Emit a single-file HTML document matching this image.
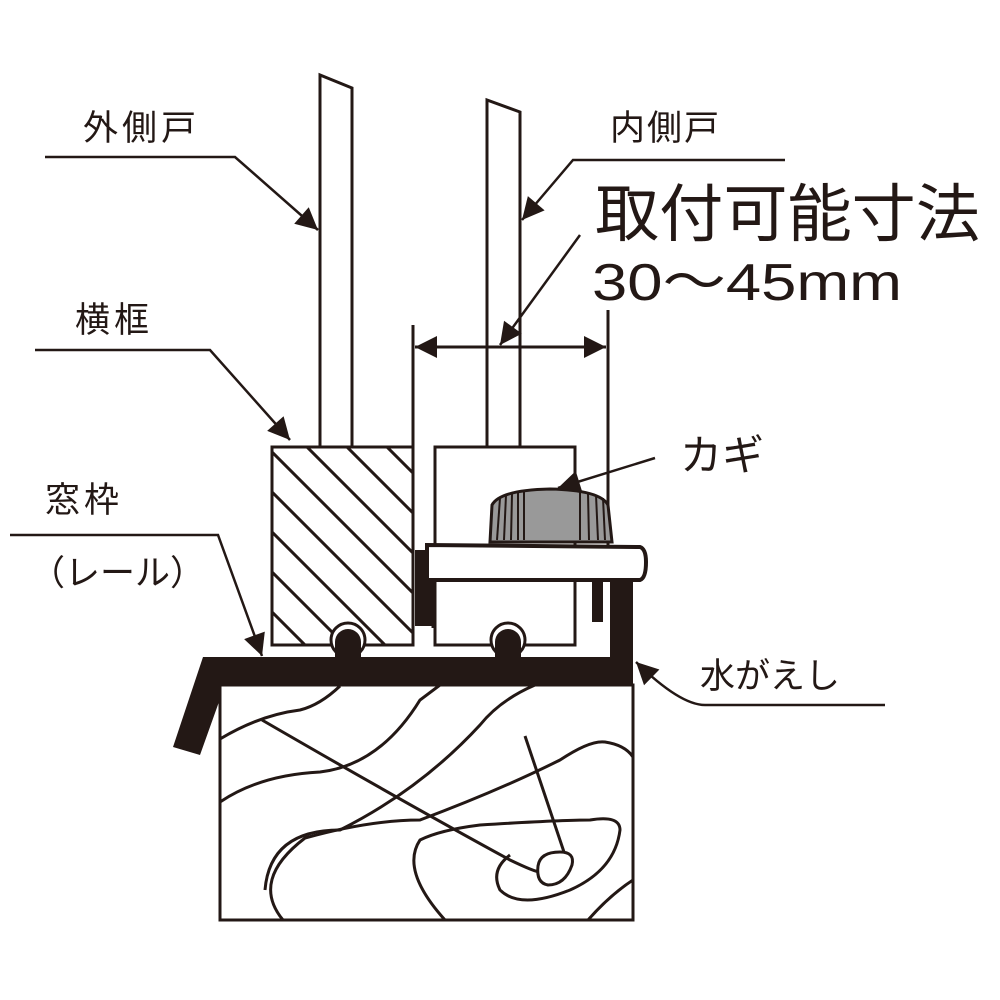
<!DOCTYPE html>
<html><head><meta charset="utf-8"><style>
html,body{margin:0;padding:0;background:#fff;}
svg{display:block;}
text{font-family:"Liberation Sans","Noto Sans CJK JP",sans-serif;fill:#231815;}
</style></head><body>
<svg width="1000" height="1000" viewBox="0 0 1000 1000" xmlns="http://www.w3.org/2000/svg">
<defs>
<marker id="ah" viewBox="0 0 10 10" refX="10" refY="5" markerWidth="9" markerHeight="9" markerUnits="userSpaceOnUse" orient="auto"><path d="M0,0 L10,5 L0,10 z" fill="#231815"/></marker>
<marker id="ab" viewBox="0 0 10 10" refX="10" refY="5" markerWidth="30" markerHeight="22" markerUnits="userSpaceOnUse" orient="auto"><path d="M0,0 L10,5 L0,10 z" fill="#231815"/></marker>
<clipPath id="lb"><rect x="272" y="447" width="141" height="198"/></clipPath>
<clipPath id="wood"><rect x="220" y="685" width="413" height="235"/></clipPath>
</defs>
<g stroke="#231815" fill="none" stroke-width="3">
<!-- doors -->
<path d="M320,447 L320,75 L352,88 L352,447" fill="#fff"/>
<path d="M487,447 L487,100 L520,112 L520,447" fill="#fff"/>
<!-- left frame hatched -->
<rect x="272" y="447" width="141" height="198" fill="#fff"/>
<g clip-path="url(#lb)" stroke-width="3">
<line x1="220" y1="440" x2="420" y2="640"/>
<line x1="220" y1="480" x2="420" y2="680"/>
<line x1="220" y1="520" x2="420" y2="720"/>
<line x1="220" y1="560" x2="420" y2="760"/>
<line x1="220" y1="600" x2="420" y2="800"/>
<line x1="260" y1="440" x2="460" y2="640"/>
<line x1="300" y1="440" x2="500" y2="640"/>
<line x1="340" y1="440" x2="540" y2="640"/>
<line x1="380" y1="440" x2="580" y2="640"/>
</g>
<rect x="272" y="447" width="141" height="198"/>
<!-- right frame -->
<rect x="435" y="447" width="140" height="198" fill="#fff"/>
<!-- dimension lines -->
<line x1="413" y1="325" x2="413" y2="447"/>
<line x1="608" y1="310" x2="608" y2="545"/>
<line x1="500" y1="347" x2="415" y2="347" marker-end="url(#ab)"/>
<line x1="500" y1="347" x2="606" y2="347" marker-end="url(#ab)"/>
</g>
<!-- rail bumps + rail -->
<g fill="#231815" stroke="none">
<path d="M203,657 L633,657 L633,685 L225,685 L200,755 L173,747 z"/>
<circle cx="348" cy="640" r="17" fill="#fff" stroke="#231815" stroke-width="3"/>
<circle cx="348" cy="642" r="13"/>
<rect x="335" y="642" width="26" height="18"/>
<circle cx="508" cy="640" r="17" fill="#fff" stroke="#231815" stroke-width="3"/>
<circle cx="508" cy="642" r="13"/>
<rect x="495" y="642" width="26" height="18"/>
<rect x="610" y="578" width="23" height="82"/>
<rect x="592" y="580" width="11" height="42"/>
<rect x="415" y="550" width="18" height="76"/>
</g>
<!-- lock plate -->
<path d="M427,545 L640,547 Q646,549 646,562 Q646,578 640,580 L427,580 z" fill="#fff" stroke="#231815" stroke-width="4"/>
<line x1="433" y1="580" x2="433" y2="628" stroke="#231815" stroke-width="3"/>
<!-- knob -->
<path d="M490,542 L492,505 Q500,490 550,489 Q600,490 608,505 L612,542 z" fill="#999" stroke="#231815" stroke-width="3"/>
<g stroke="#231815" stroke-width="2">
<line x1="500" y1="498" x2="497" y2="540"/><line x1="506" y1="495" x2="504" y2="540"/><line x1="512" y1="494" x2="511" y2="540"/><line x1="518" y1="493" x2="518" y2="540"/><line x1="524" y1="492" x2="524" y2="540"/>
<line x1="580" y1="492" x2="580" y2="540"/><line x1="588" y1="493" x2="589" y2="540"/><line x1="596" y1="495" x2="598" y2="540"/><line x1="603" y1="498" x2="605" y2="540"/>
</g>
<!-- wood -->
<rect x="220" y="685" width="413" height="235" fill="#fff" stroke="#231815" stroke-width="3"/>
<g clip-path="url(#wood)" stroke="#231815" stroke-width="3" fill="none">
<path d="M220,739 Q260,715 300,710 Q320,705 340,686"/>
<path d="M220,802 Q260,775 320,772 Q380,765 420,700 L440,685"/>
<path d="M262,720 Q400,800 510,860 Q535,872 540,872"/>
<path d="M265,890 Q270,830 340,830 Q420,790 480,725 Q500,700 535,685"/>
<path d="M283,920 Q250,880 305,838 Q370,820 420,820 Q500,790 560,760 Q590,740 605,742 Q625,745 633,757"/>
<path d="M445,920 Q400,870 420,840 Q440,830 480,825 Q560,820 590,820 Q620,815 620,830 Q615,870 570,890 Q520,910 500,890 Q490,870 510,855"/>
<path d="M588,920 Q610,895 633,880"/>
<path d="M525,736 L565,855"/>
<path d="M538,866 Q540,852 560,852 Q575,852 572,865 Q565,885 548,885 Q536,883 538,866 z" fill="#fff"/>
</g>
<!-- leaders -->
<g stroke="#231815" stroke-width="2.5" fill="none">
<path d="M45,157 L235,157 L318,230" marker-end="url(#ab)"/>
<path d="M785,160 L573,160 L522,220" marker-end="url(#ab)"/>
<path d="M580,235 L500,345" marker-end="url(#ab)"/>
<path d="M35,350 L210,350 L290,440" marker-end="url(#ab)"/>
<path d="M10,535 L218,535 L262,656" marker-end="url(#ab)"/>
<path d="M655,458 L558,488" marker-end="url(#ab)"/>
<path d="M885,705 L705,705 Q680,705 636,662" marker-end="url(#ab)"/>
</g>
<!-- labels -->
<text x="83" y="140" font-size="35" letter-spacing="4">外側戸</text>
<text x="610" y="140" font-size="35" letter-spacing="2">内側戸</text>
<text x="595" y="236" font-size="63" textLength="385" lengthAdjust="spacingAndGlyphs">取付可能寸法</text>
<text x="592" y="300" font-size="52" textLength="310" lengthAdjust="spacingAndGlyphs">30〜45mm</text>
<text x="75" y="332" font-size="35" letter-spacing="4">横框</text>
<text x="45" y="512" font-size="35" letter-spacing="4">窓枠</text>
<text x="30" y="585" font-size="35">（レール）</text>
<text x="680" y="470" font-size="42">カギ</text>
<text x="700" y="688" font-size="35">水がえし</text>
</svg>
</body></html>
